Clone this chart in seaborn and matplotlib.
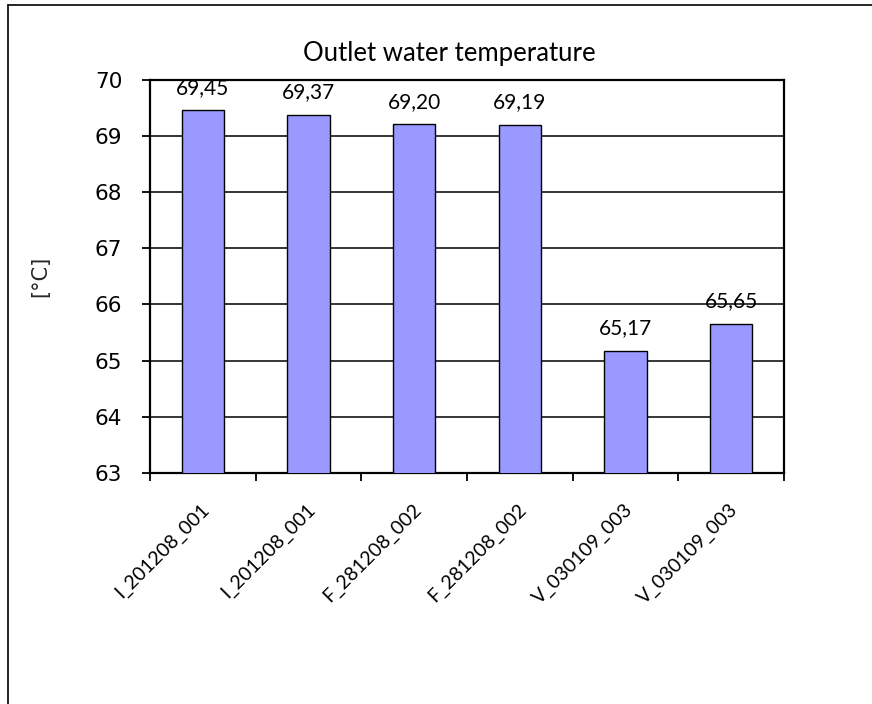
import matplotlib
matplotlib.use("Agg")
import matplotlib.pyplot as plt
from matplotlib.lines import Line2D
from matplotlib.ticker import FixedLocator
from matplotlib.transforms import ScaledTranslation
import numpy as np
import pandas as pd
import seaborn as sns

# Test runs and their measured outlet water temperatures
runs = ["I_201208_001", "I_201208_001", "F_281208_002",
        "F_281208_002", "V_030109_003", "V_030109_003"]
temperatures = [69.45, 69.37, 69.20, 69.19, 65.17, 65.65]
y_ticks = [63, 64, 65, 66, 67, 68, 69, 70]

sns.set_theme(style="white")
plt.rcParams["font.family"] = ["Lato", "DejaVu Sans"]

df = pd.DataFrame({"slot": np.arange(len(runs)), "run": runs, "temp": temperatures})

fig = plt.figure(figsize=(8.72, 7.04), dpi=100)
ax = fig.add_axes([150 / 872, 1 - 473 / 704, 634 / 872, 393.5 / 704])

sns.barplot(data=df, x="slot", y="temp", color="#9999FF", width=0.4,
            edgecolor="black", linewidth=1.0, saturation=1, ax=ax, zorder=3)

ax.set_ylim(63, 70)
ax.set_xlim(-0.5, len(runs) - 0.5)
ax.set_yticks(y_ticks)
ax.set_yticklabels([str(t) for t in y_ticks])
ax.yaxis.grid(True, color="black", linewidth=1.1, zorder=0)
ax.set_axisbelow(True)
ax.tick_params(axis="y", direction="out", length=6, width=1.3, color="black", pad=14,
               left=True, labelcolor="black", labelsize=15.5)
for lbl in ax.get_yticklabels():
    lbl.set_fontfamily("DejaVu Sans")

# Category labels near bar centres, tick marks on the category boundaries
ax.set_xticks(np.arange(len(runs)))
ax.set_xticklabels(runs, rotation=45, ha="right", va="center", rotation_mode="anchor",
                   fontsize=14)
ax.tick_params(axis="x", which="major", length=0, pad=24, labelcolor="black")
shift = ScaledTranslation(4 / 100, 0, fig.dpi_scale_trans)
for lbl in ax.get_xticklabels():
    lbl.set_transform(lbl.get_transform() + shift)
ax.xaxis.set_minor_locator(FixedLocator(np.arange(-0.5, len(runs), 1.0)))
ax.tick_params(axis="x", which="minor", direction="out", length=6, width=1.3,
               color="black", bottom=True)

ax.set_xlabel("")
ax.set_ylabel("[°C]", fontfamily="DejaVu Sans", fontsize=15)
ax.yaxis.set_label_coords((40 - 150) / 634, 0.5)
ax.yaxis.label.set_va("center")

for side in ["left", "bottom", "right", "top"]:
    ax.spines[side].set_visible(True)
    ax.spines[side].set_color("black")
    ax.spines[side].set_linewidth(1.6)

# Value labels above each bar
for i, v in enumerate(temperatures):
    ax.annotate(f"{v:.2f}".replace(".", ","), xy=(i, v), xytext=(0, 9),
                textcoords="offset points", ha="center", va="bottom",
                fontsize=15, color="black")

fig.text(449 / 872, 1 - 54 / 704, "Outlet water temperature", ha="center",
         va="center", fontsize=18.5, color="black")

# Chart frame edges
fig.add_artist(Line2D([7.5 / 872, 7.5 / 872], [0, 1 - 5 / 704], transform=fig.transFigure,
                      color="black", linewidth=1.2))
fig.add_artist(Line2D([7.5 / 872, 1], [1 - 5 / 704, 1 - 5 / 704], transform=fig.transFigure,
                      color="black", linewidth=1.2))

fig.savefig("out.png", dpi=100, facecolor="white")
